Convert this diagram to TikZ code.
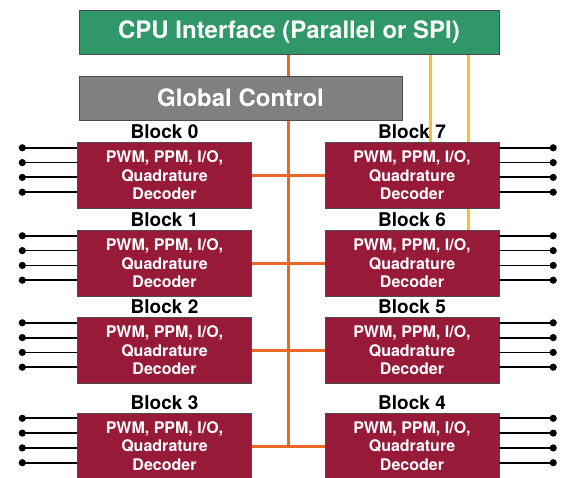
\documentclass[tikz,border=0pt]{standalone}
\usepackage{fontspec}
\setmainfont{TeX Gyre Heros}
\usepackage{tikz}
\usetikzlibrary{positioning, calc, backgrounds}
\definecolor{cpugreen}{RGB}{47,151,104}
\definecolor{ctrlgray}{RGB}{128,128,128}
\definecolor{blockred}{RGB}{151,27,56}
\definecolor{busorange}{RGB}{234,103,40}
\definecolor{spiyellow}{RGB}{252,190,38}
\tikzset{
  cpubox/.style={
    rectangle, draw=black!70, fill=cpugreen, text=white, inner sep=0pt,
    minimum width=420pt, minimum height=44pt,
    font=\bfseries\fontsize{24}{28}\selectfont
  },
  ctrlbox/.style={cpubox, fill=ctrlgray, minimum width=323pt},
  block/.style={
    rectangle, draw=black!70, fill=blockred, text=white, inner sep=0pt,
    minimum width=174pt, minimum height=66pt, align=center,
    font=\bfseries\fontsize{16}{18.5}\selectfont
  },
  blocklabel/.style={inner sep=0pt, font=\bfseries\fontsize{19}{22}\selectfont},
  bus/.style={draw=busorange, line width=3pt},
  spi/.style={draw=spiyellow, line width=3pt},
  pin/.style={draw=black, line width=1.8pt},
}

\begin{document}
\begin{tikzpicture}[x=1pt, y=-1pt]
  \useasboundingbox (0,0) rectangle (567,478);

  \node[cpubox] (cpu) at (289,32) {CPU Interface (Parallel or SPI)};
  \node[ctrlbox] (ctrl) at (240.5,98) {Global Control};

  % blocks, left column 0-3, right column 7-4
  \foreach \l/\r/\y in {0/7/175.5, 1/6/263.5, 2/5/350.5, 3/4/446} {
    \node[block] (b\l) at (164.5,\y) {PWM, PPM, I/O,\\Quadrature\\Decoder};
    \node[block] (b\r) at (412,\y) {PWM, PPM, I/O,\\Quadrature\\Decoder};
    \node[blocklabel, above=3pt of b\l] (lbl\l) {Block \l};
    \node[blocklabel, above=3pt of b\r] (lbl\r) {Block \r};
    \foreach \i in {0,...,3} {
      \coordinate (pin\l-\i) at ($(b\l.north west)+(-55,5.5+14.8*\i)$);
      \coordinate (pin\r-\i) at ($(b\r.north east)+(54,5.5+14.8*\i)$);
      \draw[pin] (b\l.west |- pin\l-\i) -- (pin\l-\i);
      \draw[pin] (b\r.east |- pin\r-\i) -- (pin\r-\i);
      \fill (pin\l-\i) circle[radius=3.6];
      \fill (pin\r-\i) circle[radius=3.6];
    }
  }

  \begin{scope}[on background layer]
    \draw[bus] ([xshift=-1]cpu.south) -- ([xshift=-1]cpu.south |- b3.east);
    \foreach \l/\r in {0/7, 1/6, 2/5, 3/4}
      \draw[bus] (b\l.east) -- (b\r.west);
    \draw[spi] ([xshift=18]b7.north |- cpu.south) -- ([xshift=18]b7.north);
    \draw[spi] ([xshift=56]b6.north |- cpu.south) -- ([xshift=56]b6.north);
  \end{scope}
\end{tikzpicture}
\end{document}
